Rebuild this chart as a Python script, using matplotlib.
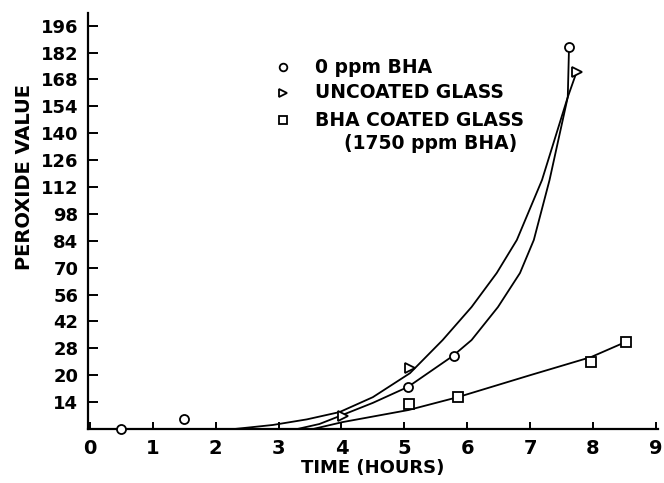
"""Peroxide value vs time for BHA / glass treatments (redrawn figure)."""

import matplotlib
matplotlib.use('Agg')
import matplotlib.pyplot as plt
import numpy as np

# nominal axis labels: the printed scale is evenly spaced per label, not linear
Y_TICK_VALUES = [0, 14, 20, 28, 42, 56, 70, 84, 98, 112, 126, 140, 154, 168, 182, 196, 210]
Y_TICK_LABELS = ['14', '20', '28', '42', '56', '70', '84', '98', '112', '126',
                 '140', '154', '168', '182', '196']
X_TICKS = [0, 1, 2, 3, 4, 5, 6, 7, 8, 9]

# measured points
X_CIRCLE = [0.5, 1.5, 5.06, 5.79, 7.62]
Y_CIRCLE = [0.0, 5.0, 17.4, 25.7, 184.8]
X_TRI = [4.02, 5.09, 7.74]
Y_TRI = [6.8, 22.2, 171.8]
X_SQUARE = [5.07, 5.85, 7.97, 8.52]
Y_SQUARE = [13.0, 15.1, 23.9, 31.3]

# hand drawn curves
CURVE_CIRCLE_X = [0, 3.3, 3.65, 3.97, 4.5, 5.06, 5.77, 6.07, 6.49, 6.84, 7.06, 7.31, 7.6, 7.62]
CURVE_CIRCLE_Y = [0, 0, 2.6, 6.7, 13.6, 17.4, 25.7, 32.3, 49.5, 67.2, 84.4, 115.6, 158.8, 184.8]
CURVE_TRI_X = [0, 2.3, 2.91, 3.45, 3.97, 4.5, 5.09, 5.61, 6.07, 6.47, 6.79, 7.19, 7.6, 7.74]
CURVE_TRI_Y = [0, 0, 2.1, 5.0, 8.8, 15.1, 20.6, 32.3, 49.5, 67.2, 84.4, 115.6, 158.8, 171.8]
CURVE_SQUARE_X = [3.55, 4.02, 5.07, 5.85, 7.0, 7.97, 8.52]
CURVE_SQUARE_Y = [0, 3.6, 9.9, 15.1, 20.0, 25.4, 31.3]

LEGEND_LABELS = ['0 ppm BHA', 'UNCOATED GLASS', 'BHA COATED GLASS']
LEGEND_NOTE = '(1750 ppm BHA)'

FONT = dict(family='DejaVu Sans', weight='bold')
_K = np.arange(len(Y_TICK_VALUES), dtype=float)


def _fwd(v):
    return np.interp(v, Y_TICK_VALUES, _K)


def _inv(k):
    return np.interp(k, _K, Y_TICK_VALUES)


def main() -> None:
    fig = plt.figure(figsize=(6.64, 4.83), dpi=100)
    ax = fig.add_axes([0.1325, 0.1118, 0.858, 0.861])
    ax.set_yscale('function', functions=(_fwd, _inv))

    line_kw = dict(color='black', lw=1.3, solid_capstyle='round')
    ax.plot(CURVE_CIRCLE_X, CURVE_CIRCLE_Y, **line_kw)
    ax.plot(CURVE_TRI_X, CURVE_TRI_Y, **line_kw)
    ax.plot(CURVE_SQUARE_X, CURVE_SQUARE_Y, **line_kw)

    mk = dict(ls='none', mfc='white', mec='black', mew=1.3, clip_on=False, zorder=3)
    ax.plot(X_CIRCLE, Y_CIRCLE, marker='o', ms=6.5, **mk)
    ax.plot(X_TRI, Y_TRI, marker='>', ms=7, **mk)
    ax.plot(X_SQUARE, Y_SQUARE, marker='s', ms=6.5, **mk)

    ax.set_xlim(-0.03, 9.03)
    ax.set_ylim(0, 202.5)
    ax.set_xticks(X_TICKS)
    ax.set_xticklabels([str(t) for t in X_TICKS], fontsize=14, **FONT)
    ax.set_yticks(Y_TICK_VALUES[1:16])
    ax.set_yticklabels(Y_TICK_LABELS, fontsize=13, **FONT)
    ax.yaxis.set_minor_locator(matplotlib.ticker.NullLocator())
    ax.tick_params(axis='y', direction='in', length=7, width=1.4, pad=7)
    ax.tick_params(axis='x', direction='in', length=5, width=1.4, pad=7)

    for side in ('top', 'right'):
        ax.spines[side].set_visible(False)
    for side in ('left', 'bottom'):
        ax.spines[side].set_linewidth(1.6)

    ax.set_xlabel('TIME (HOURS)', fontsize=13, labelpad=1, **FONT)
    ax.set_ylabel('PEROXIDE VALUE', fontsize=14, labelpad=8, **FONT)
    ax.yaxis.set_label_coords(-0.094, 0.606)

    # legend drawn by hand so the note line sits under the last label
    leg_y = [0.870, 0.808, 0.743]
    markers = ['o', '>', 's']
    for y, m, lab in zip(leg_y, markers, LEGEND_LABELS):
        ax.plot([0.342], [y], marker=m, ms=5.5, transform=ax.transAxes,
                ls='none', mfc='white', mec='black', mew=1.3)
        ax.text(0.398, y, lab, transform=ax.transAxes, va='center', ha='left',
                fontsize=13.5, **FONT)
    ax.text(0.449, 0.6875, LEGEND_NOTE, transform=ax.transAxes, va='center',
            ha='left', fontsize=13.5, **FONT)

    fig.savefig('out.png', dpi=100)
    plt.close(fig)


if __name__ == '__main__':
    main()
